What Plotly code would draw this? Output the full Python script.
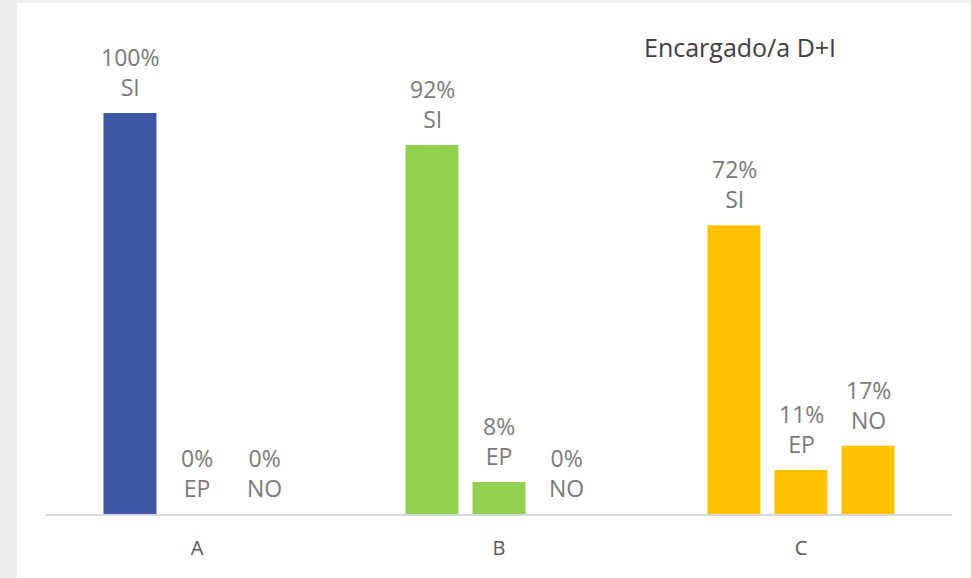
import plotly.graph_objects as go

categories = ["A", "B", "C"]
series_names = ["SI", "EP", "NO"]
si_values = [100, 92, 72]
ep_values = [0, 8, 11]
no_values = [0, 0, 17]
category_colors = ["#3F56A4", "#92D050", "#FFC000"]
title_text = "Encargado/a D+I"

FONT = "Open Sans"
fig = go.Figure()
all_values = [si_values, ep_values, no_values]
for name, vals in zip(series_names, all_values):
    fig.add_trace(go.Bar(
        x=categories, y=vals, name=name,
        marker=dict(color=category_colors, line=dict(width=0)),
        hoverinfo="skip",
    ))

W, H = 971, 578
L, R, T, B = 46, 19, 10, 64
pw, ph = W - L - R, H - T - B

def px(x):
    return (x - L) / pw

def py(y):
    return (H - B - y) / ph

annotations = [dict(
    text=title_text, xref="paper", yref="paper",
    x=px(740), y=py(47), xanchor="center", yanchor="middle",
    showarrow=False, font=dict(family=FONT, size=25, color="#404040"),
)]
bar_step = 67
for j, (name, vals) in enumerate(zip(series_names, all_values)):
    for cat, v in zip(categories, vals):
        annotations.append(dict(
            text=f"{v}%<br>{name}", x=cat, y=v, xref="x", yref="y",
            xshift=(j - 1) * bar_step, yshift=8,
            xanchor="center", yanchor="bottom", showarrow=False,
            font=dict(family=FONT, size=23, color="#7a7a7a"),
        ))

fig.update_layout(
    width=W, height=H,
    margin=dict(l=L, r=R, t=T, b=B),
    paper_bgcolor="#efefef",
    plot_bgcolor="rgba(0,0,0,0)",
    barmode="group",
    bargap=0.334,
    bargroupgap=0.21,
    showlegend=False,
    font=dict(family=FONT),
    xaxis=dict(
        showgrid=False, zeroline=False, showline=True,
        linecolor="#d9d9d9", linewidth=2,
        ticks="outside", ticklen=15, tickcolor="rgba(0,0,0,0)",
        tickfont=dict(family=FONT, size=20, color="#595959"),
    ),
    yaxis=dict(range=[0, 125.7], visible=False, fixedrange=True),
    shapes=[dict(
        type="rect", xref="paper", yref="paper", layer="below",
        x0=px(17), x1=px(W + 5), y0=py(H + 5), y1=py(3),
        fillcolor="white", line=dict(width=0),
    )],
    annotations=annotations,
)

fig.write_html(
    "out.html",
    config={"displayModeBar": False},
    post_script="document.body.style.margin='0';document.body.style.overflow='hidden';",
)
